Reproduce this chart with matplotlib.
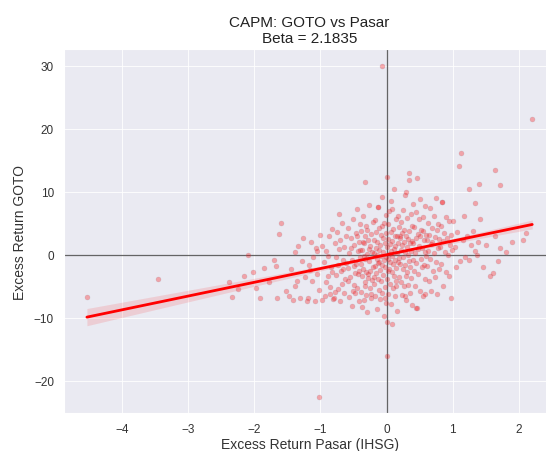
import numpy as np
import matplotlib
matplotlib.use("Agg")
import matplotlib.pyplot as plt
import seaborn as sns

# ---------------- data ----------------
TITLE = "CAPM: GOTO vs Pasar\nBeta = 2.1835"
XLABEL = "Excess Return Pasar (IHSG)"
YLABEL = "Excess Return GOTO"
BETA = 2.1835
ALPHA = 0.0
X_TICKS = [-4, -3, -2, -1, 0, 1, 2]
Y_TICKS = [-20, -10, 0, 10, 20, 30]

far_x = [-4.53, -3.46, -2.39, -2.34, -2.15, -2.09, -2.25, -2.02]
far_y = [-6.7, -3.8, -4.3, -6.7, -3.4, 0.0, -5.5, -2.8]

left2_x = [-1.98, -1.92, -1.85, -1.78, -1.70, -1.68, -1.65, -1.63, -1.59, -1.52]
left2_y = [-5.2, -6.9, -2.1, -4.4, -0.9, -1.8, -6.8, 3.3, 5.0, -5.8]

left1_x = [-1.48, -1.45, -1.42, -1.39, -1.36, -1.34, -1.31, -1.28, -1.26, -1.23, -1.21, -1.38]
left1_y = [-6.5, -2.2, -7.1, 0.5, -4.1, 1.4, -6.8, -1.0, 2.6, -3.6, -7.3, -5.0]

left0_x = [-1.19, -1.17, -1.15, -1.13, -1.11, -1.09, -1.07, -1.05, -1.03, -1.01, -1.16, -1.06]
left0_y = [-6.9, -1.6, 2.1, -4.2, -0.3, -7.4, 1.0, -3.0, -5.6, 3.2, -2.4, 0.6]

b1_x = [-0.98, -0.95, -0.93, -0.91, -0.89, -0.87, -0.86, -0.84, -0.83, -0.81,
        -0.97, -0.92, -0.88, -0.85, -0.82]
b1_y = [-7.2, -1.1, -6.6, 0.6, -3.4, 2.9, -5.1, -1.9, 4.1, -7.0,
        1.4, -4.3, -0.2, -6.3, -2.7]

b2_x = [-0.79, -0.78, -0.77, -0.76, -0.75, -0.74, -0.73, -0.72, -0.71, -0.70,
        -0.69, -0.68, -0.67, -0.66, -0.65, -0.64, -0.63, -0.62, -0.61, -0.78,
        -0.72, -0.66]
b2_y = [-6.8, 1.9, -3.2, -0.4, 3.6, -5.4, -1.7, 0.9, -7.3, 2.4,
        -2.6, -4.6, 5.1, -0.9, -6.1, 1.2, -3.9, 3.0, -1.3, -5.9,
        6.4, -2.2]

b3_x = [-0.59, -0.585, -0.57, -0.565, -0.55, -0.545, -0.53, -0.52, -0.515, -0.50,
        -0.495, -0.48, -0.475, -0.47, -0.46, -0.455, -0.445, -0.44, -0.43, -0.425,
        -0.415, -0.41, -0.405, -0.58, -0.54, -0.51, -0.49, -0.45, -0.42, -0.40]
b3_y = [-2.1, 4.3, -6.7, 0.2, -3.6, 2.7, -8.2, -0.9, 5.6, -4.8,
        1.5, -2.9, -6.0, 3.4, -1.4, 7.2, -5.2, 0.6, -3.1, 2.1,
        -7.4, -0.3, 4.8, -4.1, 1.0, -5.7, -1.8, 3.0, -2.5, 0.8]

b4_x = [-0.395, -0.39, -0.385, -0.375, -0.37, -0.365, -0.355, -0.35, -0.345, -0.335,
        -0.33, -0.325, -0.315, -0.31, -0.305, -0.295, -0.29, -0.285, -0.275, -0.27,
        -0.265, -0.255, -0.25, -0.245, -0.235, -0.23, -0.225, -0.215, -0.21, -0.205,
        -0.38, -0.36, -0.34, -0.32, -0.30, -0.28, -0.26, -0.24]
b4_y = [-1.5, 3.8, -5.9, 0.7, -3.3, 6.1, -2.2, -7.1, 1.8, -4.4,
        2.9, -0.6, -6.4, 4.6, -2.8, 0.1, -9.0, 2.3, -3.7, 7.9,
        -1.0, -5.3, 1.4, -2.5, 3.3, -6.8, 0.4, -4.0, 5.2, -1.9,
        -8.3, 2.0, -0.2, -5.0, 3.9, -3.0, 0.9, -6.2]

b5_x = [-0.198, -0.193, -0.188, -0.183, -0.178, -0.172, -0.168, -0.163, -0.158, -0.153,
        -0.147, -0.142, -0.137, -0.132, -0.128, -0.122, -0.117, -0.112, -0.107, -0.102,
        -0.097, -0.092, -0.087, -0.082, -0.077, -0.072, -0.067, -0.062, -0.057, -0.052,
        -0.047, -0.042, -0.037, -0.032, -0.027, -0.022, -0.017, -0.012, -0.008, -0.004,
        -0.19, -0.15, -0.11, -0.07, -0.03]
b5_y = [2.4, -4.7, 0.3, -1.8, 5.5, -6.5, 1.1, -2.9, 3.6, -0.7,
        -8.6, 2.0, -3.8, 7.6, -1.3, -5.6, 0.8, 4.2, -2.4, -7.0,
        1.6, -0.2, 3.1, -4.2, 9.1, -1.6, -6.1, 0.5, 2.7, -3.2,
        -9.7, 5.0, -0.9, 1.9, -5.1, -2.0, 6.3, -0.4, -7.6, 3.4,
        -3.5, 0.0, -1.1, 4.5, -6.9]

b6_x = [0.004, 0.009, 0.013, 0.018, 0.022, 0.027, 0.031, 0.036, 0.041, 0.045,
        0.050, 0.055, 0.059, 0.064, 0.068, 0.073, 0.078, 0.082, 0.087, 0.091,
        0.096, 0.101, 0.105, 0.110, 0.115, 0.119, 0.124, 0.128, 0.133, 0.138,
        0.142, 0.147, 0.151, 0.156, 0.161, 0.165, 0.170, 0.175, 0.180, 0.186,
        0.192, 0.197, 0.020, 0.080, 0.140]
b6_y = [1.2, -3.9, 4.8, -0.6, -6.2, 2.5, 0.1, -2.3, 6.9, -4.6,
        1.7, -1.1, 3.6, -7.8, 0.6, 8.6, -2.8, -0.2, 2.2, -5.3,
        4.1, -1.5, 0.9, -3.3, 10.5, -0.8, 3.0, -6.6, 1.4, 5.7,
        -2.1, -4.1, 0.3, 2.9, -8.9, 6.2, -1.2, 1.9, -3.6, 4.4,
        -0.5, 2.6, -2.5, 7.3, -5.0]

b7_x = [0.203, 0.208, 0.213, 0.218, 0.223, 0.228, 0.233, 0.238, 0.243, 0.248,
        0.253, 0.258, 0.263, 0.268, 0.273, 0.278, 0.283, 0.288, 0.293, 0.298,
        0.303, 0.308, 0.313, 0.318, 0.323, 0.328, 0.333, 0.338, 0.343, 0.348,
        0.353, 0.358, 0.363, 0.368, 0.373, 0.378, 0.383, 0.388, 0.393, 0.398]
b7_y = [2.9, -1.4, 5.2, -4.3, 0.8, 3.5, -6.4, 1.6, -2.2, 7.1,
        -0.3, 4.0, -5.0, 2.1, -1.7, 9.4, 0.4, -3.3, 3.0, -7.1,
        1.2, 5.9, -2.7, 0.0, -4.8, 2.5, 11.8, -1.0, 3.8, -6.0,
        1.9, -2.0, 6.5, -3.7, 0.6, 4.6, -8.0, 2.2, -0.8, 8.1]

b8_x = [0.405, 0.410, 0.418, 0.424, 0.430, 0.436, 0.443, 0.449, 0.455, 0.461,
        0.468, 0.474, 0.480, 0.486, 0.493, 0.499, 0.505, 0.511, 0.518, 0.524,
        0.530, 0.536, 0.543, 0.549, 0.555, 0.561, 0.568, 0.574, 0.580, 0.586,
        0.593, 0.598]
b8_y = [1.8, -2.5, 4.4, 0.2, -4.9, 6.8, 2.6, -1.3, 12.1, -8.4,
        3.3, 0.9, -3.1, 5.6, 1.4, -5.8, 2.9, 8.9, -0.6, 4.0,
        -2.0, 1.0, -6.5, 3.7, 6.0, -1.6, 2.3, -3.9, 0.5, 7.7,
        -0.2, 3.1]

b9_x = [0.605, 0.613, 0.620, 0.628, 0.636, 0.644, 0.652, 0.660, 0.668, 0.676,
        0.684, 0.692, 0.700, 0.708, 0.716, 0.724, 0.732, 0.740, 0.748, 0.756,
        0.764, 0.772, 0.780, 0.788, 0.796]
b9_y = [2.4, -1.8, 5.1, 0.6, -4.2, 3.2, 7.4, -0.7, 1.7, -5.7,
        4.3, 2.0, -2.6, 0.2, 6.2, -3.5, 2.8, 9.0, -1.2, 3.9,
        -6.3, 1.1, 4.8, -2.3, 2.5]

b10_x = [0.805, 0.815, 0.825, 0.836, 0.847, 0.858, 0.869, 0.880, 0.891, 0.902,
         0.913, 0.924, 0.935, 0.946, 0.957, 0.968, 0.979, 0.990]
b10_y = [1.3, 4.6, -1.5, 8.4, 2.2, -5.0, 3.5, 0.4, 6.0, -2.8,
         2.7, -0.1, 5.3, -3.4, 1.6, -6.8, 3.1, 0.8]

r1_x = [1.01, 1.03, 1.05, 1.07, 1.09, 1.11, 1.13, 1.15, 1.17, 1.19]
r1_y = [5.4, 1.2, -2.0, 3.6, 14.0, -1.05, 16.1, 2.4, 6.2, -0.3]

r2_x = [1.22, 1.24, 1.25, 1.27, 1.30, 1.33, 1.34, 1.36, 1.38, 1.40, 1.41, 1.46]
r2_y = [2.9, 10.4, -0.8, 1.5, 3.8, 0.6, 8.2, 0.0, 2.1, 11.2, 5.7, -1.9]

r3_x = [1.50, 1.56, 1.61, 1.63, 1.64, 1.68, 1.71, 1.72, 1.80, 1.90, 2.06, 2.10, 2.20]
r3_y = [1.6, -3.4, -2.9, 13.5, 3.0, -1.05, 1.1, 11.0, 0.5, 2.0, 2.4, 3.5, 21.6]

tail_x = [-0.07, -1.02, 0.00, 0.08, 0.00, -0.32, 0.00, 0.34, 0.29, -0.13, 0.84, 0.45, 0.28, 0.58]
tail_y = [30.0, -22.5, -16.0, -11.0, -10.7, 11.6, 12.3, 12.9, 10.0, 7.6, 8.4, -8.4, -6.6, -6.3]

# ---------------- assemble ----------------
x_groups = [far_x, left2_x, left1_x, left0_x, b1_x, b2_x, b3_x, b4_x, b5_x, b6_x,
            b7_x, b8_x, b9_x, b10_x, r1_x, r2_x, r3_x, tail_x]
y_groups = [far_y, left2_y, left1_y, left0_y, b1_y, b2_y, b3_y, b4_y, b5_y, b6_y,
            b7_y, b8_y, b9_y, b10_y, r1_y, r2_y, r3_y, tail_y]
xs = np.concatenate([np.asarray(g, float) for g in x_groups])
ys = np.concatenate([np.asarray(g, float) for g in y_groups])

sns.set_style("darkgrid")
plt.rcParams['font.family'] = ['Liberation Sans', 'DejaVu Sans']

fig = plt.figure(figsize=(5.46, 4.52), dpi=100)
ax = fig.add_axes([0.118, 0.084, 1.016 - 0.118, 0.889 - 0.084])
ax.grid(True, color='white', lw=0.6)

ax.scatter(xs, ys, s=13, facecolor='red', edgecolor='#9a8a9a',
           linewidths=0.4, alpha=0.3, zorder=2)

# regression line with a (1-sigma) confidence band
xl = np.linspace(xs.min(), xs.max(), 100)
yl = ALPHA + BETA * xl
resid = ys - (ALPHA + BETA * xs)
n = len(xs)
s = np.sqrt(np.sum(resid ** 2) / (n - 2))
sxx = np.sum((xs - xs.mean()) ** 2)
se = s * np.sqrt(1.0 / n + (xl - xs.mean()) ** 2 / sxx)
ax.fill_between(xl, yl - se, yl + se, color='red', alpha=0.12,
                linewidth=0, zorder=3)
ax.plot(xl, yl, color='red', lw=2, zorder=4)

ax.axhline(0, color='black', lw=0.9, alpha=0.6, zorder=1.5)
ax.axvline(0, color='black', lw=0.9, alpha=0.6, zorder=1.5)

ax.set_xlim(-4.87, 2.54)
ax.set_ylim(-25.1, 32.6)
ax.set_xticks(X_TICKS)
ax.set_yticks(Y_TICKS)
ax.tick_params(labelsize=8.5, colors='#333333', pad=4)
ax.set_title(TITLE, fontsize=11, color='#222222', pad=5)
ax.set_xlabel(XLABEL, fontsize=10, color='#333333', labelpad=1)
ax.set_ylabel(YLABEL, fontsize=10, color='#333333', labelpad=5)

fig.savefig("out.png", dpi=100)
